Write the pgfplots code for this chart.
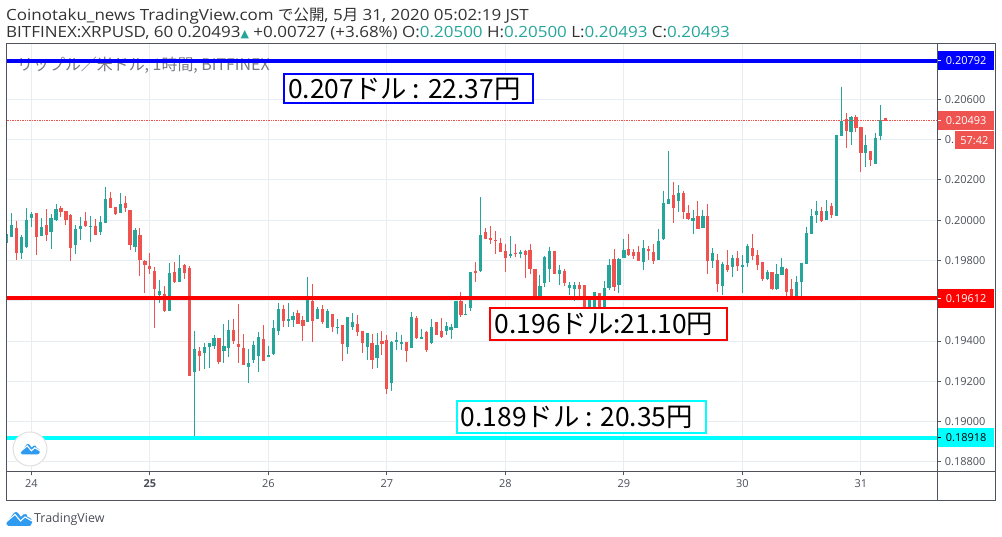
\documentclass[border=0pt]{standalone}
\usepackage{fontspec}
\usepackage{pgfplots}
\usepackage{pgfplotstable}
\pgfplotsset{compat=1.18}
\setmainfont{Open Sans}
\newfontfamily\hdr[FakeStretch=1.1]{Open Sans}
\newfontfamily\cjk{Noto Sans CJK JP}
\newfontfamily\sym{DejaVu Sans}
\definecolor{cG}{HTML}{26A69A}
\definecolor{cR}{HTML}{EF5350}
\definecolor{gridc}{HTML}{E6EEF3}
\definecolor{axc}{HTML}{50535E}
\definecolor{txtc}{HTML}{4A4D57}
\definecolor{wm}{HTML}{787B86}
\definecolor{tvb}{HTML}{2E9BF0}
\definecolor{cy}{HTML}{00FFFF}
\definecolor{pblue}{HTML}{0000FF}
\definecolor{pred}{HTML}{FF0000}
\pgfplotstableread{
i h t b l
0 0.19932 0.19932 0.19889 0.19889
1 0.20035 0.19977 0.19917 0.19917
3 0.19927 0.19917 0.19839 0.19808
4 0.20060 0.20002 0.19868 0.19864
5 0.20040 0.20031 0.20012 0.19967
7 0.20010 0.19965 0.19922 0.19922
9 0.20030 0.20012 0.19942 0.19858
10 0.20081 0.20056 0.20002 0.19997
14 0.19977 0.19957 0.19878 0.19833
15 0.20017 0.19972 0.19957 0.19902
17 0.20022 0.19972 0.19967 0.19892
19 0.20022 0.19992 0.19942 0.19927
20 0.20165 0.20106 0.19987 0.19987
23 0.20136 0.20081 0.20036 0.20036
26 0.19960 0.19952 0.19868 0.19843
31 0.19704 0.19649 0.19629 0.19590
33 0.19788 0.19739 0.19550 0.19550
35 0.19828 0.19763 0.19694 0.19694
38 0.19451 0.19361 0.19247 0.18929
40 0.19391 0.19371 0.19341 0.19262
41 0.19391 0.19391 0.19371 0.19267
42 0.19431 0.19416 0.19376 0.19361
44 0.19485 0.19376 0.19351 0.19292
45 0.19505 0.19456 0.19366 0.19321
49 0.19361 0.19292 0.19272 0.19192
50 0.19401 0.19381 0.19307 0.19292
51 0.19446 0.19421 0.19326 0.19247
53 0.19376 0.19331 0.19321 0.19321
54 0.19505 0.19465 0.19336 0.19331
55 0.19590 0.19560 0.19451 0.19431
57 0.19590 0.19510 0.19500 0.19470
58 0.19545 0.19525 0.19505 0.19470
61 0.19719 0.19604 0.19495 0.19495
63 0.19570 0.19560 0.19510 0.19510
65 0.19560 0.19550 0.19465 0.19465
67 0.19507 0.19472 0.19469 0.19437
69 0.19517 0.19517 0.19373 0.19338
70 0.19537 0.19497 0.19472 0.19457
73 0.19442 0.19442 0.19373 0.19308
75 0.19442 0.19378 0.19318 0.19268
78 0.19398 0.19393 0.19194 0.19154
79 0.19447 0.19403 0.19393 0.19358
80 0.19432 0.19393 0.19383 0.19358
82 0.19542 0.19517 0.19368 0.19368
84 0.19462 0.19422 0.19412 0.19408
86 0.19507 0.19472 0.19388 0.19383
89 0.19497 0.19477 0.19452 0.19432
90 0.19487 0.19472 0.19457 0.19408
91 0.19601 0.19601 0.19467 0.19467
93 0.19586 0.19532 0.19527 0.19527
94 0.19745 0.19745 0.19566 0.19551
96 0.20113 0.19924 0.19750 0.19745
102 0.19919 0.19834 0.19820 0.19810
104 0.19854 0.19844 0.19834 0.19810
108 0.19730 0.19671 0.19619 0.19619
109 0.19820 0.19815 0.19686 0.19666
110 0.19869 0.19849 0.19760 0.19695
112 0.19775 0.19755 0.19735 0.19676
114 0.19691 0.19676 0.19661 0.19631
115 0.19691 0.19676 0.19656 0.19601
118 0.19614 0.19614 0.19561 0.19507
119 0.19641 0.19641 0.19571 0.19532
121 0.19700 0.19661 0.19571 0.19566
122 0.19805 0.19775 0.19661 0.19651
124 0.19810 0.19805 0.19676 0.19636
125 0.19904 0.19854 0.19810 0.19810
129 0.19902 0.19863 0.19793 0.19753
132 0.19957 0.19897 0.19803 0.19803
133 0.20146 0.20086 0.19907 0.19902
134 0.20344 0.20106 0.20081 0.20079
136 0.20175 0.20136 0.20096 0.20041
139 0.20051 0.20012 0.19997 0.19932
141 0.20051 0.20022 0.19962 0.19962
143 0.19863 0.19838 0.19798 0.19763
145 0.19793 0.19783 0.19674 0.19629
147 0.19828 0.19813 0.19768 0.19719
149 0.19828 0.19778 0.19768 0.19639
150 0.19882 0.19873 0.19788 0.19768
154 0.19753 0.19743 0.19709 0.19704
156 0.19783 0.19734 0.19659 0.19654
157 0.19813 0.19768 0.19729 0.19729
160 0.19724 0.19694 0.19616 0.19616
161 0.19788 0.19788 0.19694 0.19616
162 0.19967 0.19937 0.19783 0.19783
163 0.20056 0.20022 0.19932 0.19932
164 0.20096 0.20046 0.20026 0.19987
166 0.20101 0.20046 0.20002 0.20002
168 0.20424 0.20424 0.20022 0.20022
169 0.20662 0.20493 0.20419 0.20419
171 0.20518 0.20513 0.20439 0.20374
174 0.20424 0.20374 0.20334 0.20265
176 0.20434 0.20409 0.20280 0.20280
177 0.20573 0.20498 0.20419 0.20399
}\greentable
\pgfplotstableread{
i h t b l
2 0.19997 0.19962 0.19839 0.19803
6 0.20035 0.20035 0.19917 0.19828
8 0.20055 0.19977 0.19927 0.19897
11 0.20071 0.20061 0.20041 0.20017
12 0.20046 0.20046 0.20002 0.19977
13 0.20031 0.20026 0.19863 0.19798
16 0.20041 0.19997 0.19972 0.19967
18 0.20007 0.19972 0.19927 0.19927
21 0.20141 0.20111 0.20061 0.20061
22 0.20066 0.20066 0.20031 0.20026
24 0.20121 0.20086 0.20061 0.20041
25 0.20051 0.20051 0.19878 0.19853
27 0.19962 0.19927 0.19803 0.19724
28 0.19803 0.19798 0.19778 0.19639
29 0.19838 0.19773 0.19758 0.19734
30 0.19768 0.19748 0.19659 0.19465
32 0.19674 0.19634 0.19548 0.19545
34 0.19793 0.19743 0.19694 0.19689
36 0.19783 0.19778 0.19739 0.19709
37 0.19773 0.19763 0.19227 0.19227
39 0.19371 0.19351 0.19326 0.19252
43 0.19416 0.19416 0.19297 0.19287
46 0.19510 0.19456 0.19401 0.19386
47 0.19585 0.19386 0.19371 0.19292
48 0.19436 0.19366 0.19282 0.19282
52 0.19480 0.19411 0.19302 0.19302
56 0.19580 0.19560 0.19500 0.19470
59 0.19555 0.19540 0.19485 0.19485
60 0.19525 0.19505 0.19475 0.19401
62 0.19684 0.19600 0.19500 0.19396
64 0.19580 0.19560 0.19495 0.19485
66 0.19532 0.19532 0.19472 0.19447
68 0.19482 0.19482 0.19383 0.19303
71 0.19527 0.19487 0.19447 0.19427
72 0.19452 0.19452 0.19388 0.19343
74 0.19437 0.19388 0.19308 0.19259
76 0.19452 0.19398 0.19383 0.19333
77 0.19432 0.19403 0.19164 0.19139
81 0.19393 0.19393 0.19353 0.19298
83 0.19522 0.19512 0.19417 0.19412
85 0.19452 0.19447 0.19358 0.19348
87 0.19497 0.19497 0.19432 0.19432
88 0.19512 0.19452 0.19422 0.19417
92 0.19641 0.19601 0.19527 0.19517
95 0.19790 0.19750 0.19740 0.19691
97 0.19959 0.19939 0.19904 0.19904
98 0.19969 0.19909 0.19899 0.19884
99 0.19944 0.19899 0.19894 0.19834
100 0.19909 0.19889 0.19844 0.19844
101 0.19884 0.19849 0.19810 0.19745
103 0.19884 0.19839 0.19834 0.19815
105 0.19854 0.19849 0.19825 0.19715
106 0.19884 0.19854 0.19760 0.19735
107 0.19760 0.19760 0.19623 0.19618
111 0.19849 0.19849 0.19735 0.19735
113 0.19760 0.19750 0.19686 0.19671
116 0.19691 0.19676 0.19656 0.19611
117 0.19676 0.19676 0.19571 0.19551
120 0.19636 0.19636 0.19566 0.19566
123 0.19859 0.19805 0.19666 0.19646
126 0.19929 0.19859 0.19825 0.19820
127 0.19859 0.19844 0.19820 0.19805
128 0.19874 0.19844 0.19795 0.19795
130 0.19873 0.19858 0.19848 0.19803
131 0.19882 0.19843 0.19798 0.19783
135 0.20190 0.20126 0.20061 0.19987
137 0.20146 0.20136 0.20041 0.20007
138 0.20076 0.20036 0.20007 0.20002
140 0.20096 0.20022 0.19957 0.19957
142 0.20081 0.20022 0.19798 0.19734
144 0.19833 0.19803 0.19684 0.19644
146 0.19853 0.19778 0.19753 0.19743
148 0.19848 0.19813 0.19773 0.19748
151 0.19932 0.19863 0.19823 0.19803
152 0.19853 0.19828 0.19778 0.19753
153 0.19793 0.19793 0.19709 0.19699
155 0.19743 0.19743 0.19659 0.19654
158 0.19763 0.19758 0.19644 0.19621
159 0.19709 0.19659 0.19616 0.19616
165 0.20066 0.20046 0.19997 0.19992
167 0.20086 0.20071 0.20026 0.20012
170 0.20533 0.20503 0.20444 0.20359
172 0.20523 0.20513 0.20458 0.20439
173 0.20463 0.20463 0.20334 0.20240
175 0.20344 0.20344 0.20300 0.20270
178 0.20505 0.20505 0.20493 0.20493
}\redtable
\newcommand{\tvcloud}[1]{%
  \fill[tvb] (2.5,0) .. controls (0,0) and (-0.5,3.5) .. (1.5,5) -- (8,13) .. controls (9,14.5) and (11,14.5) .. (12,13) -- (15,9) -- (17.5,11.5) .. controls (19,13) and (21,12) .. (21.5,9) .. controls (25,9) and (27,5) .. (25.5,2) .. controls (25,0.5) and (24,0) .. (23,0) -- cycle;
  \draw[#1,line width=1.1bp] (0.5,4.5) -- (9,11.5) -- (14.5,5) -- (19,9) -- (26,5);
}
\pgfplotsset{candle/.style={draw=none,mark=none,forget plot,error bars/.cd,y dir=minus,y explicit,error mark=none}}
\begin{document}
\begin{tikzpicture}[x=1bp,y=1bp]
\path[use as bounding box] (0,0) rectangle (1002,537);
\begin{axis}[
  at={(6.5bp,65.7bp)}, anchor=south west, scale only axis,
  width=930.8bp, height=428bp,
  xmin=-0.03, xmax=188.47, ymin=0.187538, ymax=0.208775,
  clip mode=individual,
  axis line style={axc,line width=1bp},
  axis x line*=bottom, axis y line*=right,
  xtick={5,29,53,77,101,125,149,173},
  xticklabels={24,\textbf{25},26,27,28,29,30,31},
  ytick={0.188,0.190,0.192,0.194,0.196,0.198,0.200,0.202,0.204,0.206},
  yticklabels={0.18800,0.19000,0.19200,0.19400,{},0.19800,0.20000,0.20200,0.20400,0.20600},
  ymajorgrids, xmajorgrids,
  grid style={gridc,line width=1bp},
  major tick length=4bp,
  tick style={axc,line width=1bp},
  tick align=outside,
  ticklabel style={font=\fontsize{11}{13}\selectfont,text=txtc},
  x tick label style={yshift=-1bp},
]
\node[anchor=west,text=wm,inner sep=0pt,font=\fontsize{16}{18}\cjk] at (axis cs:2.1,0.20766) {リップル／米ドル, 1時間, BITFINEX};
\addplot[candle,error bar style={cG,line width=1bp}] table[x=i,y=h,y error plus expr=0,y error minus expr=\thisrow{h}-\thisrow{l}] {\greentable};
\addplot[candle,error bar style={cG,line width=3.2bp}] table[x=i,y=t,y error plus expr=0,y error minus expr=\thisrow{t}-\thisrow{b}] {\greentable};
\addplot[candle,error bar style={cR,line width=1bp}] table[x=i,y=h,y error plus expr=0,y error minus expr=\thisrow{h}-\thisrow{l}] {\redtable};
\addplot[candle,error bar style={cR,line width=3.2bp}] table[x=i,y=t,y error plus expr=0,y error minus expr=\thisrow{t}-\thisrow{b}] {\redtable};
\addplot[cR,line width=0.7bp,densely dotted] coordinates {(-0.03,0.20493) (188.47,0.20493)};
\addplot[pblue,line width=4bp] coordinates {(-0.03,0.20792) (188.47,0.20792)};
\addplot[pred,line width=4bp] coordinates {(-0.03,0.19612) (188.47,0.19612)};
\addplot[cy,line width=4bp] coordinates {(-0.03,0.18918) (188.47,0.18918)};
\end{axis}
% outer frame of the price and time scales
\draw[axc,line width=1bp] (6.5,493.5) -- (995.7,493.5) -- (995.7,36.7) -- (6.5,36.7) -- cycle;
\draw[axc,line width=1bp] (937.3,36.7) -- (937.3,65.7) (937.3,65.7) -- (995.7,65.7);
% tags on the price scale
\def\tag#1#2#3#4{\fill[#1] (937.8,#2-9.5) rectangle (994,#2+9.5);
  \draw[#4,line width=1bp] (937.8,#2) -- (941.3,#2);
  \node[anchor=west,inner sep=0pt,text=#4,font=\fontsize{11}{13}\selectfont] at (945.7,#2) {#3};}
\tag{pblue}{476.3}{0.20792}{white}
\tag{cR}{416.7}{0.20493}{white}
\tag{pred}{238.5}{0.19612}{white}
\tag{cy}{99}{0.18918}{black}
\draw[white,fill=cR,line width=1bp] (954,387) rectangle (994.5,406.5);
\node[text=white,font=\fontsize{11}{13}\selectfont,inner sep=0pt] at (974.3,396.7) {57:42};
% annotation boxes
\draw[pblue,fill=white,line width=2bp] (283.5,433.5) rectangle (533,462.5);
\node[anchor=west,inner sep=0pt,font=\fontsize{26.5}{28}\cjk] at (288,448) {0.207ドル : 22.37円};
\draw[pred,fill=white,line width=2bp] (490,196.5) rectangle (727,228.5);
\node[anchor=west,inner sep=0pt,font=\fontsize{26.5}{28}\cjk] at (494.5,212.5) {0.196ドル:21.10円};
\draw[cy,fill=white,line width=2bp] (456.5,103.5) rectangle (706,135.5);
\node[anchor=west,inner sep=0pt,font=\fontsize{26.5}{28}\cjk] at (460.5,119.5) {0.189ドル : 20.35円};
% header
\node[anchor=base west,inner sep=0pt,text=black!80,font=\fontsize{15.5}{18}\hdr] at (6,516.3) {Coinotaku\_news TradingView.com {\cjk で公開}, 5{\cjk 月} 31, 2020 05:02:19 JST};
\node[anchor=base west,inner sep=0pt,text=black!80,font=\fontsize{15.5}{18}\hdr] at (6,499.4) {BITFINEX:XRPUSD, 60 0.20493{\color{cG}\sym\fontsize{11}{11}\selectfont ▲} +0.00727 (+3.68\%) O:\textcolor{cG}{0.20500} H:\textcolor{cG}{0.20500} L:\textcolor{cG}{0.20493} C:\textcolor{cG}{0.20493}};
% logos
\draw[black!12,fill=white,line width=1bp] (30,88) circle (17);
\begin{scope}[shift={(20.5,82.5)},scale=0.75]\tvcloud{white}\end{scope}
\begin{scope}[shift={(6,11)}]\tvcloud{white}\end{scope}
\node[anchor=base west,inner sep=0pt,text=txtc,font=\fontsize{12.5}{14}\selectfont] at (34,14) {TradingView};
\end{tikzpicture}
\end{document}
